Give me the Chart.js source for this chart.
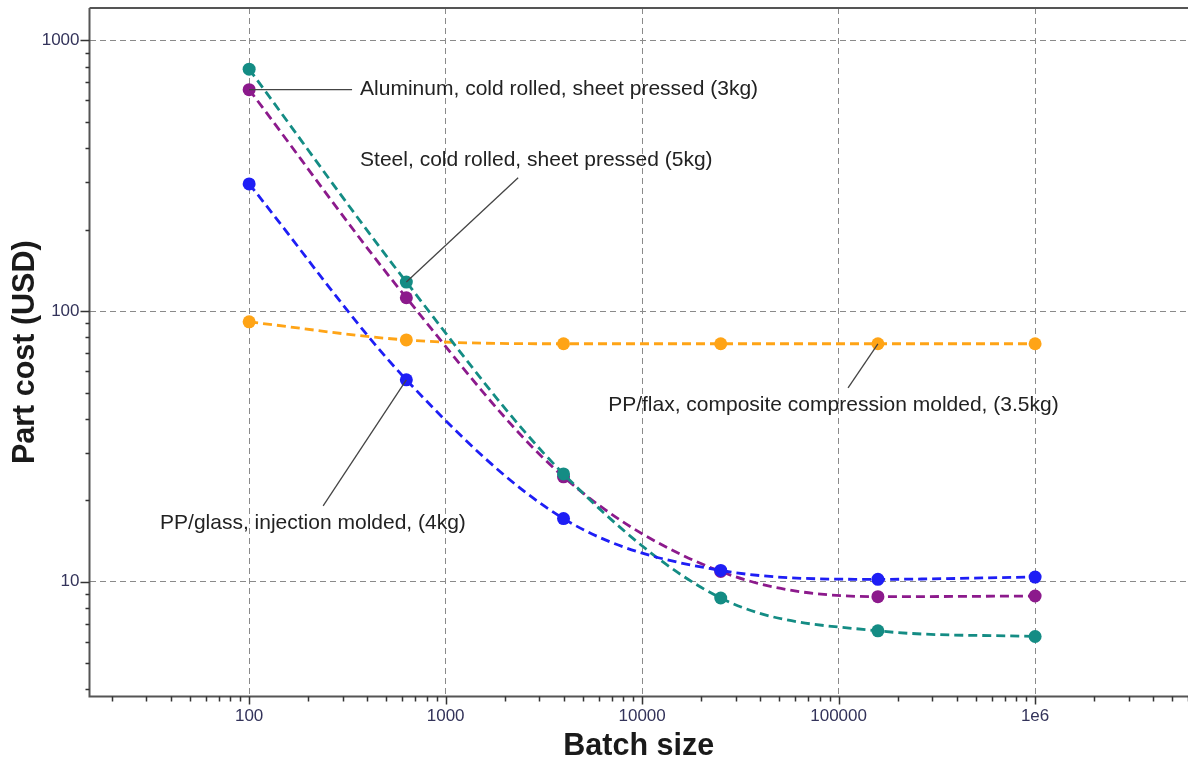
<!DOCTYPE html>
<html>
<head>
<meta charset="utf-8">
<script src="https://cdn.jsdelivr.net/npm/chart.js@4"></script>
<style>
  html, body { margin: 0; padding: 0; background: #fff; overflow: hidden; }
  canvas { display: block; }
</style>
</head>
<body>
<canvas id="chart" width="1188" height="759"></canvas>
<script>
// batch sizes (log spaced)
let batch = [100, 631, 3981, 25119, 158489, 1000000];

// part cost per material (USD)
let aluminum = [783, 128, 25.0, 8.7, 6.58, 6.27];
let steel = [658, 112, 24.4, 10.9, 8.8, 8.85];
let ppGlass = [295, 55.7, 17.1, 11.0, 10.2, 10.4];
let ppFlax = [91.2, 78.2, 75.7, 75.7, 75.7, 75.7];

let xTicks = [100, 1000, 10000, 100000, 1000000];
let yTicks = [10, 100, 1000];

// callouts: [text, point x, point y, line end x, line end y, text x, text y]
let notes = [
    ['Aluminum, cold rolled, sheet pressed (3kg)', 100, 658, 334, 658, 367, 658],
    ['Steel, cold rolled, sheet pressed (5kg)', 631, 128, 2339, 311, 367, 362],
    ['PP/flax, composite compression molded, (3.5kg)', 158489, 75.7, 111700, 52.0, 6714, 45.0],
    ['PP/glass, injection molded, (4kg)', 631, 55.7, 238, 19.05, 35.2, 16.5]
];

function pts(ys) {
    return batch.map((b, i) => ({x: b, y: ys[i]}));
}

function series(label, ys, color) {
    return {
        label: label,
        data: pts(ys),
        borderColor: color,
        backgroundColor: color,
        pointBackgroundColor: color,
        pointBorderWidth: 0,
        pointRadius: 6.5,
        borderWidth: 2.8,
        borderDash: [9, 5],
        cubicInterpolationMode: 'monotone',
        fill: false
    };
}

// minor ticks 2..9 per decade inside a range
function minorTicks(lo, hi) {
    let out = [];
    for (let e = Math.floor(Math.log10(lo)); e <= Math.ceil(Math.log10(hi)); e++) {
        for (let m = 1; m <= 9; m++) {
            let v = m * Math.pow(10, e);
            if (v >= lo && v <= hi) out.push({v: v, major: m === 1});
        }
    }
    return out;
}

const frame = {
    id: 'frame',
    afterDatasetsDraw(chart) {
        const ctx = chart.ctx;
        const a = chart.chartArea;
        const xs = chart.scales.x, ys = chart.scales.y;
        ctx.save();
        // callouts
        ctx.strokeStyle = '#444';
        ctx.lineWidth = 1.3;
        ctx.fillStyle = '#222';
        ctx.font = '21px "Liberation Sans", Arial, sans-serif';
        ctx.textBaseline = 'middle';
        ctx.textAlign = 'left';
        notes.forEach(n => {
            ctx.beginPath();
            ctx.moveTo(xs.getPixelForValue(n[1]), ys.getPixelForValue(n[2]));
            ctx.lineTo(xs.getPixelForValue(n[3]), ys.getPixelForValue(n[4]));
            ctx.stroke();
            ctx.fillText(n[0], xs.getPixelForValue(n[5]), ys.getPixelForValue(n[6]));
        });
        // axes box
        ctx.strokeStyle = '#555';
        ctx.lineWidth = 2;
        ctx.beginPath();
        ctx.moveTo(a.left, a.top);
        ctx.lineTo(a.right, a.top);
        ctx.moveTo(a.left, a.top);
        ctx.lineTo(a.left, a.bottom);
        ctx.lineTo(a.right, a.bottom);
        ctx.stroke();
        // tick marks
        ctx.lineWidth = 1.5;
        ctx.strokeStyle = '#333';
        ctx.beginPath();
        minorTicks(xs.min, xs.max).forEach(t => {
            let px = Math.round(xs.getPixelForValue(t.v)) + 0.5;
            ctx.moveTo(px, a.bottom);
            ctx.lineTo(px, a.bottom + (t.major ? 8 : 5));
        });
        minorTicks(ys.min, ys.max).forEach(t => {
            let py = Math.round(ys.getPixelForValue(t.v)) + 0.5;
            ctx.moveTo(a.left, py);
            ctx.lineTo(a.left - (t.major ? 9 : 4), py);
        });
        ctx.stroke();
        ctx.restore();
    }
};

const tickFont = {family: '"Liberation Sans", Arial, sans-serif', size: 17};
const titleFont = {family: '"Liberation Sans", Arial, sans-serif', size: 30.5, weight: 'bold', lineHeight: 1};
const gridStyle = {
    color: '#8a8a8a',
    lineWidth: 1,
    drawTicks: false
};

let chart = new Chart(document.getElementById('chart').getContext('2d'), {
    type: 'line',
    data: {
        datasets: [
            series('PP/glass, injection molded, (4kg)', ppGlass, '#1e1ef5'),
            series('Aluminum, cold rolled, sheet pressed (3kg)', aluminum, '#148c84'),
            series('Steel, cold rolled, sheet pressed (5kg)', steel, '#8c1a8c'),
            series('PP/flax, composite compression molded, (3.5kg)', ppFlax, '#ffa416')
        ]
    },
    options: {
        responsive: false,
        animation: false,
        devicePixelRatio: 1,
        layout: {autoPadding: false, padding: {top: 8, right: 0, left: 0, bottom: 0}},
        plugins: {legend: {display: false}, tooltip: {enabled: false}},
        scales: {
            x: {
                type: 'logarithmic',
                min: 15.4,
                max: 6.0e6,
                afterBuildTicks: s => { s.ticks = xTicks.map(v => ({value: v})); },
                afterFit: s => { s.height = 62.5; s.paddingLeft = 0; s.paddingRight = 0; },
                grid: gridStyle,
                border: {display: false, dash: [6, 4]},
                ticks: {
                    font: tickFont,
                    color: '#33335a',
                    padding: 10,
                    maxRotation: 0,
                    autoSkip: false,
                    callback: v => v === 1000000 ? '1e6' : String(v)
                },
                title: {display: true, text: 'Batch size', font: titleFont, color: '#1a1a1a', padding: {top: 0, bottom: -3}}
            },
            y: {
                type: 'logarithmic',
                min: 3.763,
                max: 1318,
                afterBuildTicks: s => { s.ticks = yTicks.map(v => ({value: v})); },
                afterFit: s => { s.width = 89.5; s.paddingTop = 0; s.paddingBottom = 0; },
                grid: gridStyle,
                border: {display: false, dash: [6, 4]},
                ticks: {
                    font: tickFont,
                    color: '#33335a',
                    padding: 10,
                    autoSkip: false,
                    callback: v => String(v)
                },
                title: {display: true, text: 'Part cost (USD)', font: titleFont, color: '#1a1a1a', padding: {top: 10, bottom: 0}}
            }
        }
    },
    plugins: [frame]
});
</script>
</body>
</html>
